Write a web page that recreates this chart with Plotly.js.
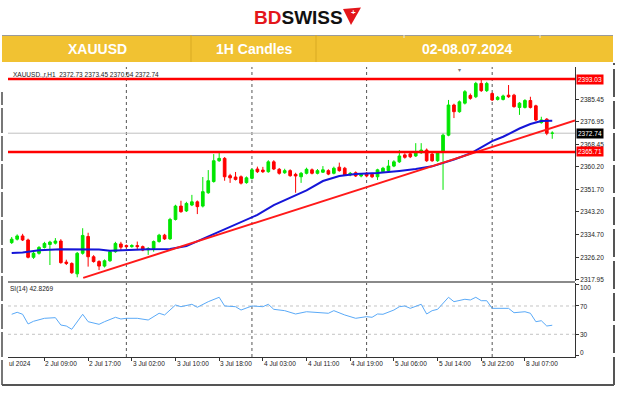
<!DOCTYPE html>
<html><head><meta charset="utf-8">
<script src="https://cdn.plot.ly/plotly-3.0.1.min.js"></script>
<style>html,body{margin:0;padding:0;background:#fff;}#chart{width:624px;height:396px;}</style>
</head><body><div id="chart"></div>
<script>
// ---------------- DATA ----------------
const symbolLabel = "XAUUSD.,r,H1  2372.73 2373.45 2370.64 2372.74";
const rsiLabel = "SI(14) 42.8269";
const headerTexts = ["XAUUSD", "1H Candles", "02-08.07.2024"];

const barOpen = [2331.7,2333.0,2334.2,2332.7,2326.2,2327.7,2329.9,2331.0,2331.5,2332.3,
 2324.4,2323.9,2320.0,2327.7,2334.0,2326.4,2324.6,2322.9,2324.9,2328.3,
 2331.2,2330.6,2330.2,2330.6,2330.2,2329.0,2329.5,2332.1,2334.5,2333.1,
 2340.4,2345.4,2343.6,2345.8,2347.0,2345.4,2350.4,2354.6,2362.4,2363.3,
 2356.8,2356.3,2356.4,2354.2,2355.8,2359.3,2358.9,2358.3,2362.0,2359.2,
 2357.9,2358.7,2357.3,2356.4,2357.7,2359.0,2357.7,2358.1,2358.7,2357.7,
 2360.0,2359.6,2357.1,2357.9,2356.7,2357.7,2357.3,2356.4,2358.3,2358.7,
 2360.4,2362.0,2364.6,2365.0,2364.2,2365.4,2366.4,2364.9,2362.4,2365.8,
 2372.0,2383.3,2380.8,2384.0,2386.9,2386.4,2391.4,2388.7,2387.6,2385.4,
 2385.4,2387.0,2387.0,2382.4,2382.4,2385.0,2383.0,2376.7,2378.0,2372.73];
const barHigh = [2333.8,2334.8,2335.0,2333.2,2328.2,2330.4,2332.0,2332.4,2333.4,2333.0,
 2325.3,2324.3,2328.2,2337.1,2335.4,2327.0,2325.1,2325.4,2328.8,2332.0,
 2332.0,2331.0,2331.1,2332.1,2330.6,2330.0,2332.5,2335.0,2335.0,2341.0,
 2345.9,2347.4,2347.0,2349.6,2347.5,2356.3,2358.9,2364.9,2365.4,2363.8,
 2357.5,2358.2,2356.9,2356.5,2359.5,2360.2,2360.1,2362.6,2362.6,2359.7,
 2359.4,2359.2,2357.9,2358.2,2359.8,2359.5,2359.3,2360.4,2359.2,2360.2,
 2361.7,2360.1,2358.2,2358.4,2357.7,2358.2,2357.8,2359.4,2360.1,2362.7,
 2362.6,2366.4,2365.2,2365.6,2369.0,2369.0,2367.0,2365.4,2366.0,2372.6,
 2385.2,2383.8,2385.0,2388.9,2387.6,2392.0,2393.0,2392.0,2388.0,2386.7,
 2387.2,2390.8,2387.5,2384.4,2385.5,2386.4,2383.4,2378.9,2378.4,2373.45];
const barLow = [2331.2,2332.5,2332.3,2325.8,2325.6,2327.2,2329.5,2323.3,2331.0,2323.8,
 2323.3,2320.0,2318.7,2327.2,2322.7,2324.2,2321.4,2322.4,2324.5,2327.9,
 2328.8,2329.8,2329.8,2328.9,2328.5,2327.1,2328.3,2331.7,2332.7,2332.7,
 2340.0,2342.9,2343.2,2345.4,2342.4,2344.9,2350.0,2354.2,2362.0,2354.9,
 2354.1,2355.0,2353.5,2353.8,2355.4,2357.8,2357.8,2357.9,2358.9,2357.2,
 2357.5,2356.4,2350.4,2354.1,2357.3,2357.3,2357.3,2357.8,2357.0,2357.3,
 2358.3,2356.7,2356.6,2356.3,2356.2,2356.2,2355.9,2355.2,2357.9,2358.3,
 2360.0,2361.6,2363.2,2363.4,2363.8,2365.0,2362.0,2362.0,2362.0,2351.5,
 2371.6,2378.4,2380.4,2383.5,2385.3,2385.9,2388.2,2388.2,2384.8,2385.0,
 2385.0,2386.0,2382.3,2379.6,2382.0,2382.0,2377.2,2376.3,2372.0,2370.64];
const barClose = [2333.0,2334.2,2332.7,2326.2,2327.7,2329.9,2331.4,2331.9,2332.3,2324.2,
 2323.9,2320.4,2327.7,2334.4,2326.4,2324.6,2322.9,2324.9,2328.3,2331.4,
 2330.0,2330.2,2330.6,2330.2,2328.9,2329.5,2332.1,2334.5,2333.1,2340.4,
 2345.4,2343.3,2346.4,2347.0,2345.2,2350.8,2354.9,2362.4,2363.3,2356.4,
 2356.0,2355.4,2354.0,2356.0,2359.0,2358.3,2358.3,2362.0,2359.3,2357.7,
 2358.7,2356.8,2356.7,2357.7,2359.2,2357.7,2358.7,2359.0,2357.4,2359.6,
 2358.7,2357.1,2357.7,2356.7,2357.2,2356.7,2356.4,2359.0,2359.6,2360.4,
 2362.0,2364.2,2363.7,2363.9,2365.8,2366.4,2362.4,2362.4,2365.3,2372.0,
 2383.3,2380.8,2384.5,2388.3,2385.8,2391.4,2388.7,2391.4,2385.2,2386.2,
 2386.7,2386.4,2382.7,2384.0,2385.0,2382.4,2377.7,2377.7,2372.7,2372.74];

// moving average (blue) read at selected bars
const maBars   = [0,2,4,5,9,13,16,18,21,25,29,32,35,39,43,45,48,51,54,57,60,63,67,71,74,77,79,81,84,86,88,90,93,95,97,99];
const maPrices = [2327.8,2328.0,2328.6,2328.8,2329.2,2329.2,2329.1,2328.7,2328.95,2329.2,2329.3,2330.4,2333.1,2336.6,2340.2,2342.1,2345.8,2348.6,2351.3,2354.8,2356.7,2357.4,2357.8,2358.6,2359.3,2360.3,2361.5,2362.9,2365.1,2367.6,2369.8,2371.4,2374.5,2376.2,2377.3,2377.4];

// red trend line
const trendBars = [13.1, 103.17];
const trendPrices = [2318.5, 2377.5];

// horizontal levels
const resistanceLevel = 2393.03;
const supportLevel = 2365.71;
const bidLevel = 2372.74;

// price axis ticks
const priceTicks = [2385.45, 2376.95, 2368.45, 2360.20, 2351.70, 2343.20, 2334.70, 2326.20, 2317.95];

// RSI(14)
const rsiBars = [0,1,2,3,4,6,8,9,10,11,13,14,16,17,19,20,21,23,25,27,28,30,31,33,34,36,38,39,41,42,44,46,47,48,50,52,54,56,57,58,59,61,63,65,66,67,68,70,71,72,73,75,76,77,78,80,81,83,84,85,86,87,88,91,92,94,95,96,97,98,99];
const rsiValues = [58.3,61.1,58.3,44.6,48.4,52.6,53.5,43.1,41.7,37.1,58.3,47.8,44.1,47.8,54.0,51.6,52.6,52.6,50.2,59.7,57.3,71.4,69.0,72.4,68.2,76.1,82.3,70.0,69.0,64.3,70.0,69.0,72.4,65.3,63.4,58.7,61.9,60.5,60.5,59.7,63.4,57.3,52.6,54.9,54.0,58.7,58.3,64.3,69.0,70.0,66.7,72.4,58.7,63.4,65.3,82.3,76.1,79.5,78.5,82.3,77.5,77.5,66.7,66.7,60.5,61.9,59.7,47.8,49.2,41.7,42.8];
const rsiTickLabels = ["100", "70", "30", "0"];
const rsiLevels = [70, 30];

// time axis
const timeTickBars = [6,14,22,30,38,46,54,62,70,78,86,94];
const timeTickLabels = ["2 Jul 09:00","2 Jul 17:00","3 Jul 02:00","3 Jul 10:00","3 Jul 18:00","4 Jul 03:00","4 Jul 11:00","4 Jul 19:00","5 Jul 06:00","5 Jul 14:00","5 Jul 22:00","8 Jul 07:00"];
const firstDateLabel = "ul 2024";
const daySeparatorBars = [21, 44, 65, 88];

// ---------------- DRAWING ----------------
const W = 624, H = 396;
const PX = v => v / W;
const PY = v => 1 - v / H;
const FONT = "Liberation Sans, Arial, sans-serif";
const SMALL = 6.5;
const barIndex = barOpen.map((_, i) => i);
const xRange = [(8 - 11.7) / 5.46, (575 - 11.7) / 5.46];
const plotL = PX(8), plotR = PX(575);

const traces = [
  {type: 'candlestick', x: barIndex, open: barOpen, high: barHigh, low: barLow, close: barClose,
   xaxis: 'x', yaxis: 'y', whiskerwidth: 0, hoverinfo: 'skip',
   increasing: {line: {color: '#00e600', width: 1}, fillcolor: '#00e600'},
   decreasing: {line: {color: '#ff0000', width: 1}, fillcolor: '#ff0000'}},
  {type: 'scatter', mode: 'lines', x: maBars, y: maPrices, xaxis: 'x', yaxis: 'y',
   line: {color: '#1515d8', width: 2}, hoverinfo: 'skip'},
  {type: 'scatter', mode: 'lines', x: trendBars, y: trendPrices, xaxis: 'x', yaxis: 'y',
   line: {color: '#ff1a1a', width: 2}, hoverinfo: 'skip', cliponaxis: true},
  {type: 'scatter', mode: 'lines', x: rsiBars, y: rsiValues, xaxis: 'x2', yaxis: 'y2',
   line: {color: '#5aaaf8', width: 1}, hoverinfo: 'skip'}
];

const shapes = [];
// header yellow bar
shapes.push({type: 'rect', xref: 'paper', yref: 'paper', x0: PX(2), x1: PX(613), y0: PY(62), y1: PY(35),
  fillcolor: '#f1c232', line: {width: 0}, layer: 'below'});
shapes.push({type: 'line', xref: 'paper', yref: 'paper', x0: PX(2), x1: PX(613), y0: PY(35.5), y1: PY(35.5),
  line: {color: '#9a9a9a', width: 1}});
[191, 316].forEach(x => shapes.push({type: 'line', xref: 'paper', yref: 'paper', x0: PX(x), x1: PX(x), y0: PY(62), y1: PY(35),
  line: {color: '#d9aa22', width: 1}}));
[404, 540].forEach(x => shapes.push({type: 'line', xref: 'paper', yref: 'paper', x0: PX(x), x1: PX(x), y0: PY(38), y1: PY(35),
  line: {color: '#e8e8e8', width: 1}}));
// logo flag
const flagPts = [[343, 9], [361, 7.5], [351, 25]];
shapes.push({type: 'path', xref: 'paper', yref: 'paper',
  path: 'M ' + flagPts.map(p => PX(p[0]) + ' ' + PY(p[1])).join(' L ') + ' Z',
  fillcolor: '#e3161b', line: {width: 0}});
// window borders
shapes.push({type: 'line', xref: 'paper', yref: 'paper', x0: PX(2), x1: PX(2), y0: PY(385), y1: PY(92),
  line: {color: '#777', width: 2, dash: '25px,3px'}});
shapes.push({type: 'line', xref: 'paper', yref: 'paper', x0: PX(614), x1: PX(614), y0: PY(385), y1: PY(63),
  line: {color: '#555', width: 2, dash: '28px,4px'}});
shapes.push({type: 'line', xref: 'paper', yref: 'paper', x0: PX(2), x1: PX(614), y0: PY(385), y1: PY(385),
  line: {color: '#555', width: 2}});
// panel separator
shapes.push({type: 'line', xref: 'paper', yref: 'paper', x0: plotL, x1: plotR, y0: PY(282), y1: PY(282),
  line: {color: '#8a8a8a', width: 2}});
// day separators
daySeparatorBars.forEach(b => shapes.push({type: 'line', xref: 'x', yref: 'paper', x0: b, x1: b, y0: PY(357), y1: PY(67),
  line: {color: '#555', width: 1, dash: 'dot'}, layer: 'below'}));
// RSI levels
rsiLevels.forEach(v => shapes.push({type: 'line', xref: 'paper', yref: 'y2', x0: plotL, x1: plotR, y0: v, y1: v,
  line: {color: '#c4c4c4', width: 1, dash: 'dot'}, layer: 'below'}));
// price levels
shapes.push({type: 'line', xref: 'paper', yref: 'y', x0: plotL, x1: plotR, y0: bidLevel, y1: bidLevel,
  line: {color: '#c0c0c0', width: 1}, layer: 'below'});
[resistanceLevel, supportLevel].forEach(v => shapes.push({type: 'line', xref: 'paper', yref: 'y', x0: plotL, x1: plotR, y0: v, y1: v,
  line: {color: '#ff0000', width: 2.5}}));

const annotations = [];
annotations.push({xref: 'paper', yref: 'paper', x: PX(298), y: PY(17), xanchor: 'center', yanchor: 'middle', showarrow: false,
  text: '<b><span style="color:#e3161b">BD</span><span style="color:#111111">SWISS</span></b>',
  font: {family: FONT, size: 19}});
annotations.push({xref: 'paper', yref: 'paper', x: PX(353), y: PY(12.5), xanchor: 'center', yanchor: 'middle', showarrow: false,
  text: '<b>+</b>', font: {family: FONT, size: 8, color: '#ffffff'}});
[[97, 0], [254, 1], [467, 2]].forEach(([x, i]) => annotations.push({xref: 'paper', yref: 'paper', x: PX(x), y: PY(49),
  xanchor: 'center', yanchor: 'middle', showarrow: false, text: '<b>' + headerTexts[i] + '</b>',
  font: {family: FONT, size: 14, color: '#ffffff'}}));
annotations.push({xref: 'paper', yref: 'paper', x: PX(11), y: PY(74), xanchor: 'left', yanchor: 'middle', showarrow: false,
  text: symbolLabel, font: {family: FONT, size: SMALL, color: '#222'}});
annotations.push({xref: 'paper', yref: 'paper', x: PX(8), y: PY(288.5), xanchor: 'left', yanchor: 'middle', showarrow: false,
  text: rsiLabel, font: {family: FONT, size: SMALL, color: '#222'}});
annotations.push({xref: 'paper', yref: 'paper', x: PX(459), y: PY(70.5), xanchor: 'center', yanchor: 'middle', showarrow: false,
  text: '▾', font: {family: FONT, size: 6, color: '#777'}});
// level boxes
[[resistanceLevel, '#ff0000'], [bidLevel, '#000000'], [supportLevel, '#ff0000']].forEach(([v, c]) =>
  annotations.push({xref: 'paper', yref: 'y', x: PX(576), y: v, xanchor: 'left', yanchor: 'middle', showarrow: false,
    text: v.toFixed(2), bgcolor: c, borderpad: 1, font: {family: FONT, size: SMALL, color: '#ffffff'}}));
// RSI labels
[[287.3, 0], [306.3, 1], [334.7, 2], [352, 3]].forEach(([y, i]) => annotations.push({xref: 'paper', yref: 'paper',
  x: PX(578), y: PY(y), xanchor: 'left', yanchor: 'middle', showarrow: false, text: rsiTickLabels[i],
  font: {family: FONT, size: SMALL, color: '#222'}}));
// time labels
timeTickBars.forEach((b, i) => annotations.push({xref: 'x2', yref: 'paper', x: b, y: PY(363), xanchor: 'left', yanchor: 'middle',
  showarrow: false, text: timeTickLabels[i], xshift: -1, font: {family: FONT, size: SMALL, color: '#222'}}));
annotations.push({xref: 'paper', yref: 'paper', x: PX(7), y: PY(363), xanchor: 'left', yanchor: 'middle', showarrow: false,
  text: firstDateLabel, font: {family: FONT, size: SMALL, color: '#222'}});

const layout = {
  width: W, height: H, margin: {l: 0, r: 0, t: 0, b: 0},
  paper_bgcolor: '#ffffff', plot_bgcolor: '#ffffff', showlegend: false,
  font: {family: FONT, size: SMALL, color: '#222'},
  xaxis: {domain: [plotL, plotR], range: xRange, anchor: 'y', showgrid: false, zeroline: false,
    showticklabels: false, ticks: '', showline: false, rangeslider: {visible: false}, fixedrange: true},
  yaxis: {domain: [PY(281), PY(67)], range: [2317.31, 2397.56], anchor: 'x', side: 'right',
    showgrid: false, zeroline: false, tickvals: priceTicks, ticktext: priceTicks.map(v => v.toFixed(2)),
    ticks: 'outside', ticklen: 3, tickcolor: '#333', tickfont: {family: FONT, size: SMALL, color: '#222'},
    showline: true, linecolor: '#333', linewidth: 1, fixedrange: true},
  xaxis2: {domain: [plotL, plotR], range: xRange, anchor: 'y2', showgrid: false, zeroline: false,
    tickvals: timeTickBars, ticks: 'outside', ticklen: 3, tickcolor: '#333', showticklabels: false,
    showline: true, linecolor: '#333', linewidth: 1, fixedrange: true},
  yaxis2: {domain: [PY(357), PY(283)], range: [-2.1, 102.5], anchor: 'x2', side: 'right',
    showgrid: false, zeroline: false, tickvals: [100, 70, 30, 0], ticks: 'outside', ticklen: 3, tickcolor: '#333',
    showticklabels: false, showline: true, linecolor: '#333', linewidth: 1, fixedrange: true},
  shapes: shapes, annotations: annotations
};

Plotly.newPlot('chart', traces, layout, {staticPlot: true, displayModeBar: false});
</script>
</body></html>
